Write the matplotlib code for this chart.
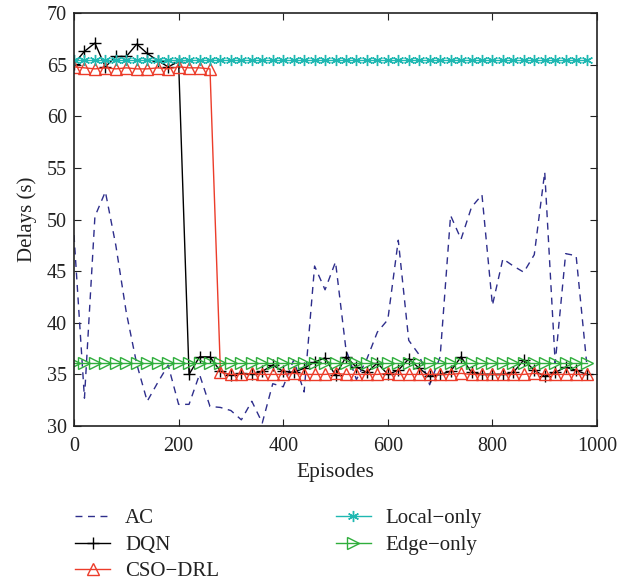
import matplotlib
matplotlib.use("Agg")
import matplotlib.pyplot as plt

plt.rcParams['font.family'] = ['Liberation Serif', 'DejaVu Serif']

episodes = list(range(0, 1000, 20))

ac = [48.5, 32.7, 50.3, 52.7, 47.5, 41.0, 36.0, 32.4, 34.2, 35.9,
      32.1, 32.1, 35.0, 31.9, 31.8, 31.5, 30.6, 32.4, 30.3, 34.1,
      33.8, 36.4, 33.3, 45.5, 43.2, 45.9, 37.4, 34.5, 36.5, 39.1,
      40.3, 48.0, 38.3, 36.9, 34.0, 36.7, 50.4, 48.1, 51.2, 52.4,
      41.7, 46.2, 45.5, 44.9, 46.6, 54.6, 36.1, 46.7, 46.5, 36.2]

dqn = [65.1, 66.3, 67.1, 64.8, 65.8, 65.8, 67.0, 66.1, 65.4, 64.8,
       65.3, 35.0, 36.7, 36.7, 35.3, 34.9, 35.1, 35.0, 35.3, 35.9,
       35.3, 35.2, 35.6, 36.2, 36.6, 34.9, 36.7, 35.7, 35.2, 36.1,
       35.0, 35.4, 36.5, 35.6, 34.8, 35.0, 35.3, 36.7, 35.2, 35.0,
       35.0, 35.0, 35.2, 36.4, 35.4, 34.8, 35.2, 35.7, 35.4, 35.0]

cso = [64.8, 64.7, 64.6, 64.7, 64.6, 64.7, 64.6, 64.6, 64.7, 64.6,
       64.8, 64.7, 64.7, 64.6, 35.2, 35.0, 35.0, 35.1, 35.0, 35.0,
       35.0, 35.1, 35.0, 35.0, 35.0, 35.1, 35.0, 35.0, 35.0, 35.0,
       35.1, 35.0, 35.0, 35.0, 35.0, 35.0, 35.0, 35.1, 35.0, 35.0,
       35.0, 35.0, 35.0, 35.0, 35.1, 35.0, 35.0, 35.0, 35.0, 35.0]

local_only = [65.5] * len(episodes)
edge_only = [36.1] * len(episodes)

labels = ['AC', 'DQN', 'CSO\u2212DRL', 'Local\u2212only', 'Edge\u2212only']

fig = plt.figure(figsize=(6.34, 5.84), dpi=100)
ax = fig.add_axes([0.1167, 0.2705, 0.825, 0.707])

ax.plot(episodes, ac, color='#2e2e8c', linestyle=(0, (5, 4)), linewidth=1.0, label=labels[0])
ax.plot(episodes, dqn, color='black', marker='+', markersize=9, markeredgewidth=1.0, linewidth=1.0, label=labels[1])
ax.plot(episodes, cso, color='#ec3c2a', marker='^', markersize=8, markerfacecolor='none',
        markeredgewidth=1.0, linewidth=1.0, label=labels[2])
ax.plot(episodes, local_only, color='#1fb8b2', marker=(6, 2, 0), markersize=8, markeredgewidth=1.0,
        linewidth=1.0, label=labels[3])
ax.plot(episodes, edge_only, color='#2fae3c', marker='>', markersize=8, markerfacecolor='none',
        markeredgewidth=1.0, linewidth=1.0, label=labels[4])

ax.set_xlim(0, 1000)
ax.set_ylim(30, 70)
ax.set_xticks(range(0, 1001, 200))
ax.set_yticks(range(30, 71, 5))
ax.tick_params(direction='in', top=True, right=True, labelsize=14.5, length=5, colors='#222222')
ax.tick_params(axis='x', pad=8)
ax.tick_params(axis='y', pad=5)
for s in ax.spines.values():
    s.set_linewidth(1.2)
    s.set_color('#222222')
ax.set_xlabel('Episodes', fontsize=15.5, labelpad=5, color='#222222')
ax.set_ylabel('Delays (s)', fontsize=15, labelpad=7, color='#222222')

handles, lbls = ax.get_legend_handles_labels()
fig.legend(handles, lbls, loc='upper left', bbox_to_anchor=(0.105, 0.143),
           ncol=2, frameon=False, fontsize=15, handlelength=1.7, handletextpad=0.7,
           columnspacing=5.6, labelspacing=0.33, borderaxespad=0, labelcolor='#222222')

fig.savefig('out.png', dpi=100)
